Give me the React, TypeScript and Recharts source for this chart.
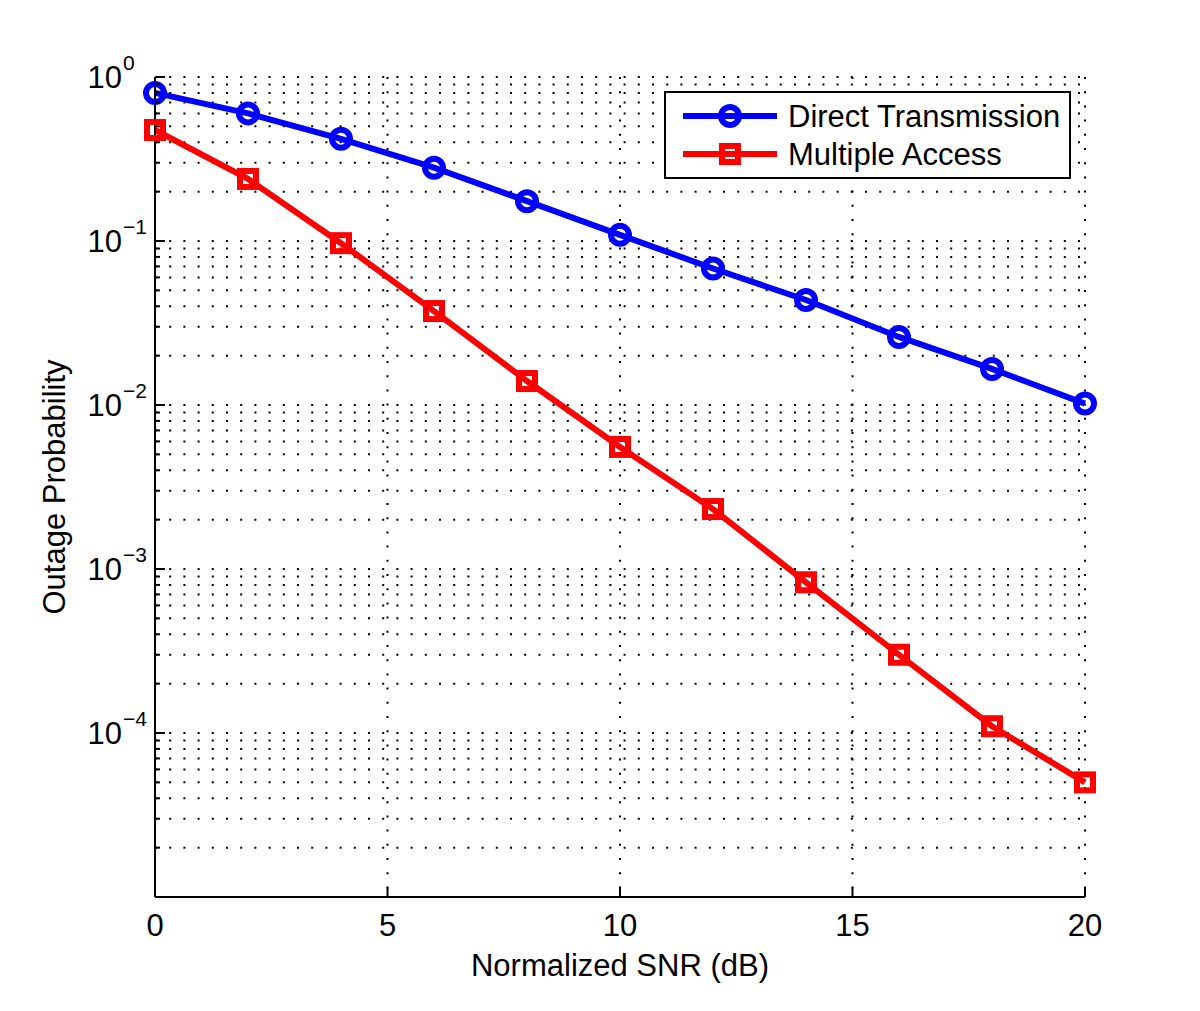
import React from "react";
import { LineChart, Line, XAxis, YAxis, CartesianGrid, Customized } from "recharts";

const snr = [0, 2, 4, 6, 8, 10, 12, 14, 16, 18, 20];
const directTransmission = [0.8, 0.6, 0.42, 0.28, 0.175, 0.109, 0.068, 0.0437, 0.026, 0.0166, 0.0102];
const multipleAccess = [0.475, 0.239, 0.097, 0.0374, 0.014, 0.00555, 0.00232, 0.00083, 0.0003, 0.00011, 0.00005];
const xTicks = [0, 5, 10, 15, 20];
const decades = [-5, -4, -3, -2, -1, 0];
const labeledDecades = [-4, -3, -2, -1, 0];

const yTicks: number[] = [];
decades.forEach((d) => {
  yTicks.push(Math.pow(10, d));
  if (d < 0) {
    for (let m = 2; m <= 9; m++) yTicks.push(m * Math.pow(10, d));
  }
});

const data = snr.map((x, i) => ({ x, dt: directTransmission[i], ma: multipleAccess[i] }));

const FONT = "'Liberation Sans', Arial, Helvetica, sans-serif";
const BLUE = "#0000ff";
const RED = "#ff0000";

const YTick = (props: any) => {
  const { x, y, payload } = props;
  const v = payload.value;
  const lg = Math.log10(v);
  const isMajor = Math.abs(lg - Math.round(lg)) < 1e-6;
  const exp = Math.round(lg);
  const showLabel = isMajor && labeledDecades.includes(exp);
  return (
    <g>
      <line x1={x} x2={x + (isMajor ? 10 : 5)} y1={y} y2={y} stroke="#000" strokeWidth={2} />
      {showLabel && (
        <g>
          <text x={x - 33} y={y + 11} textAnchor="end" fontFamily={FONT} fontSize={31} fill="#000">
            10
          </text>
          <text x={x - 32} y={y - 7} textAnchor="start" fontFamily={FONT} fontSize={21} fill="#000">
            {exp === 0 ? "0" : "\u2212" + String(-exp)}
          </text>
        </g>
      )}
    </g>
  );
};

const XTick = (props: any) => {
  const { x, y, payload } = props;
  return (
    <g>
      <line x1={x} x2={x} y1={y} y2={y - 10} stroke="#000" strokeWidth={2} />
      <text x={x} y={y + 39} textAnchor="middle" fontFamily={FONT} fontSize={31} fill="#000">
        {payload.value}
      </text>
    </g>
  );
};

const CircleDot = (props: any) => {
  const { cx, cy, index } = props;
  if (cx == null || cy == null) return <g key={index} />;
  return <circle key={index} cx={cx} cy={cy} r={9} fill="none" stroke={BLUE} strokeWidth={6} />;
};

const SquareDot = (props: any) => {
  const { cx, cy, index } = props;
  if (cx == null || cy == null) return <g key={index} />;
  return <rect key={index} x={cx - 8} y={cy - 8} width={16} height={16} fill="none" stroke={RED} strokeWidth={6} />;
};

const LegendBox = () => (
  <g>
    <rect x={665} y={92} width={405} height={86} fill="#fff" stroke="#000" strokeWidth={2} />
    <line x1={683} x2={777} y1={116} y2={116} stroke={BLUE} strokeWidth={6} />
    <circle cx={730} cy={116} r={9} fill="none" stroke={BLUE} strokeWidth={6} />
    <text x={788} y={127} fontFamily={FONT} fontSize={31} fill="#000">Direct Transmission</text>
    <line x1={683} x2={777} y1={154} y2={154} stroke={RED} strokeWidth={6} />
    <rect x={722} y={146} width={16} height={16} fill="none" stroke={RED} strokeWidth={6} />
    <text x={788} y={165} fontFamily={FONT} fontSize={31} fill="#000">Multiple Access</text>
  </g>
);

const AxisLabels = () => (
  <g>
    <text x={620} y={976} textAnchor="middle" fontFamily={FONT} fontSize={31} fill="#000">
      Normalized SNR (dB)
    </text>
    <text x={65} y={487} textAnchor="middle" fontFamily={FONT} fontSize={31} fill="#000" transform="rotate(-90 65 487)">
      Outage Probability
    </text>
  </g>
);

export default function App() {
  return (
    <div style={{ position: "absolute", left: 0, top: 0, width: 1200, height: 1011, background: "#fff" }}>
      <LineChart width={1200} height={1011} data={data} margin={{ top: 77, right: 115, bottom: 0, left: 0 }}>
        <CartesianGrid stroke="#000" strokeWidth={2} strokeDasharray="2 12.2" />
        <XAxis
          dataKey="x"
          type="number"
          domain={[0, 20]}
          ticks={xTicks}
          interval={0}
          height={114}
          tickSize={0}
          tickMargin={0}
          tickLine={false}
          axisLine={{ stroke: "#000", strokeWidth: 2 }}
          tick={<XTick />}
        />
        <YAxis
          type="number"
          scale="log"
          domain={[1e-5, 1]}
          allowDataOverflow
          ticks={yTicks}
          interval={0}
          width={155}
          tickSize={0}
          tickMargin={0}
          tickLine={false}
          axisLine={{ stroke: "#000", strokeWidth: 2 }}
          tick={<YTick />}
        />
        <Line type="linear" dataKey="dt" stroke={BLUE} strokeWidth={6} dot={<CircleDot />} isAnimationActive={false} />
        <Line type="linear" dataKey="ma" stroke={RED} strokeWidth={6} dot={<SquareDot />} isAnimationActive={false} />
        <Customized component={<AxisLabels />} />
        <Customized component={<LegendBox />} />
      </LineChart>
    </div>
  );
}
